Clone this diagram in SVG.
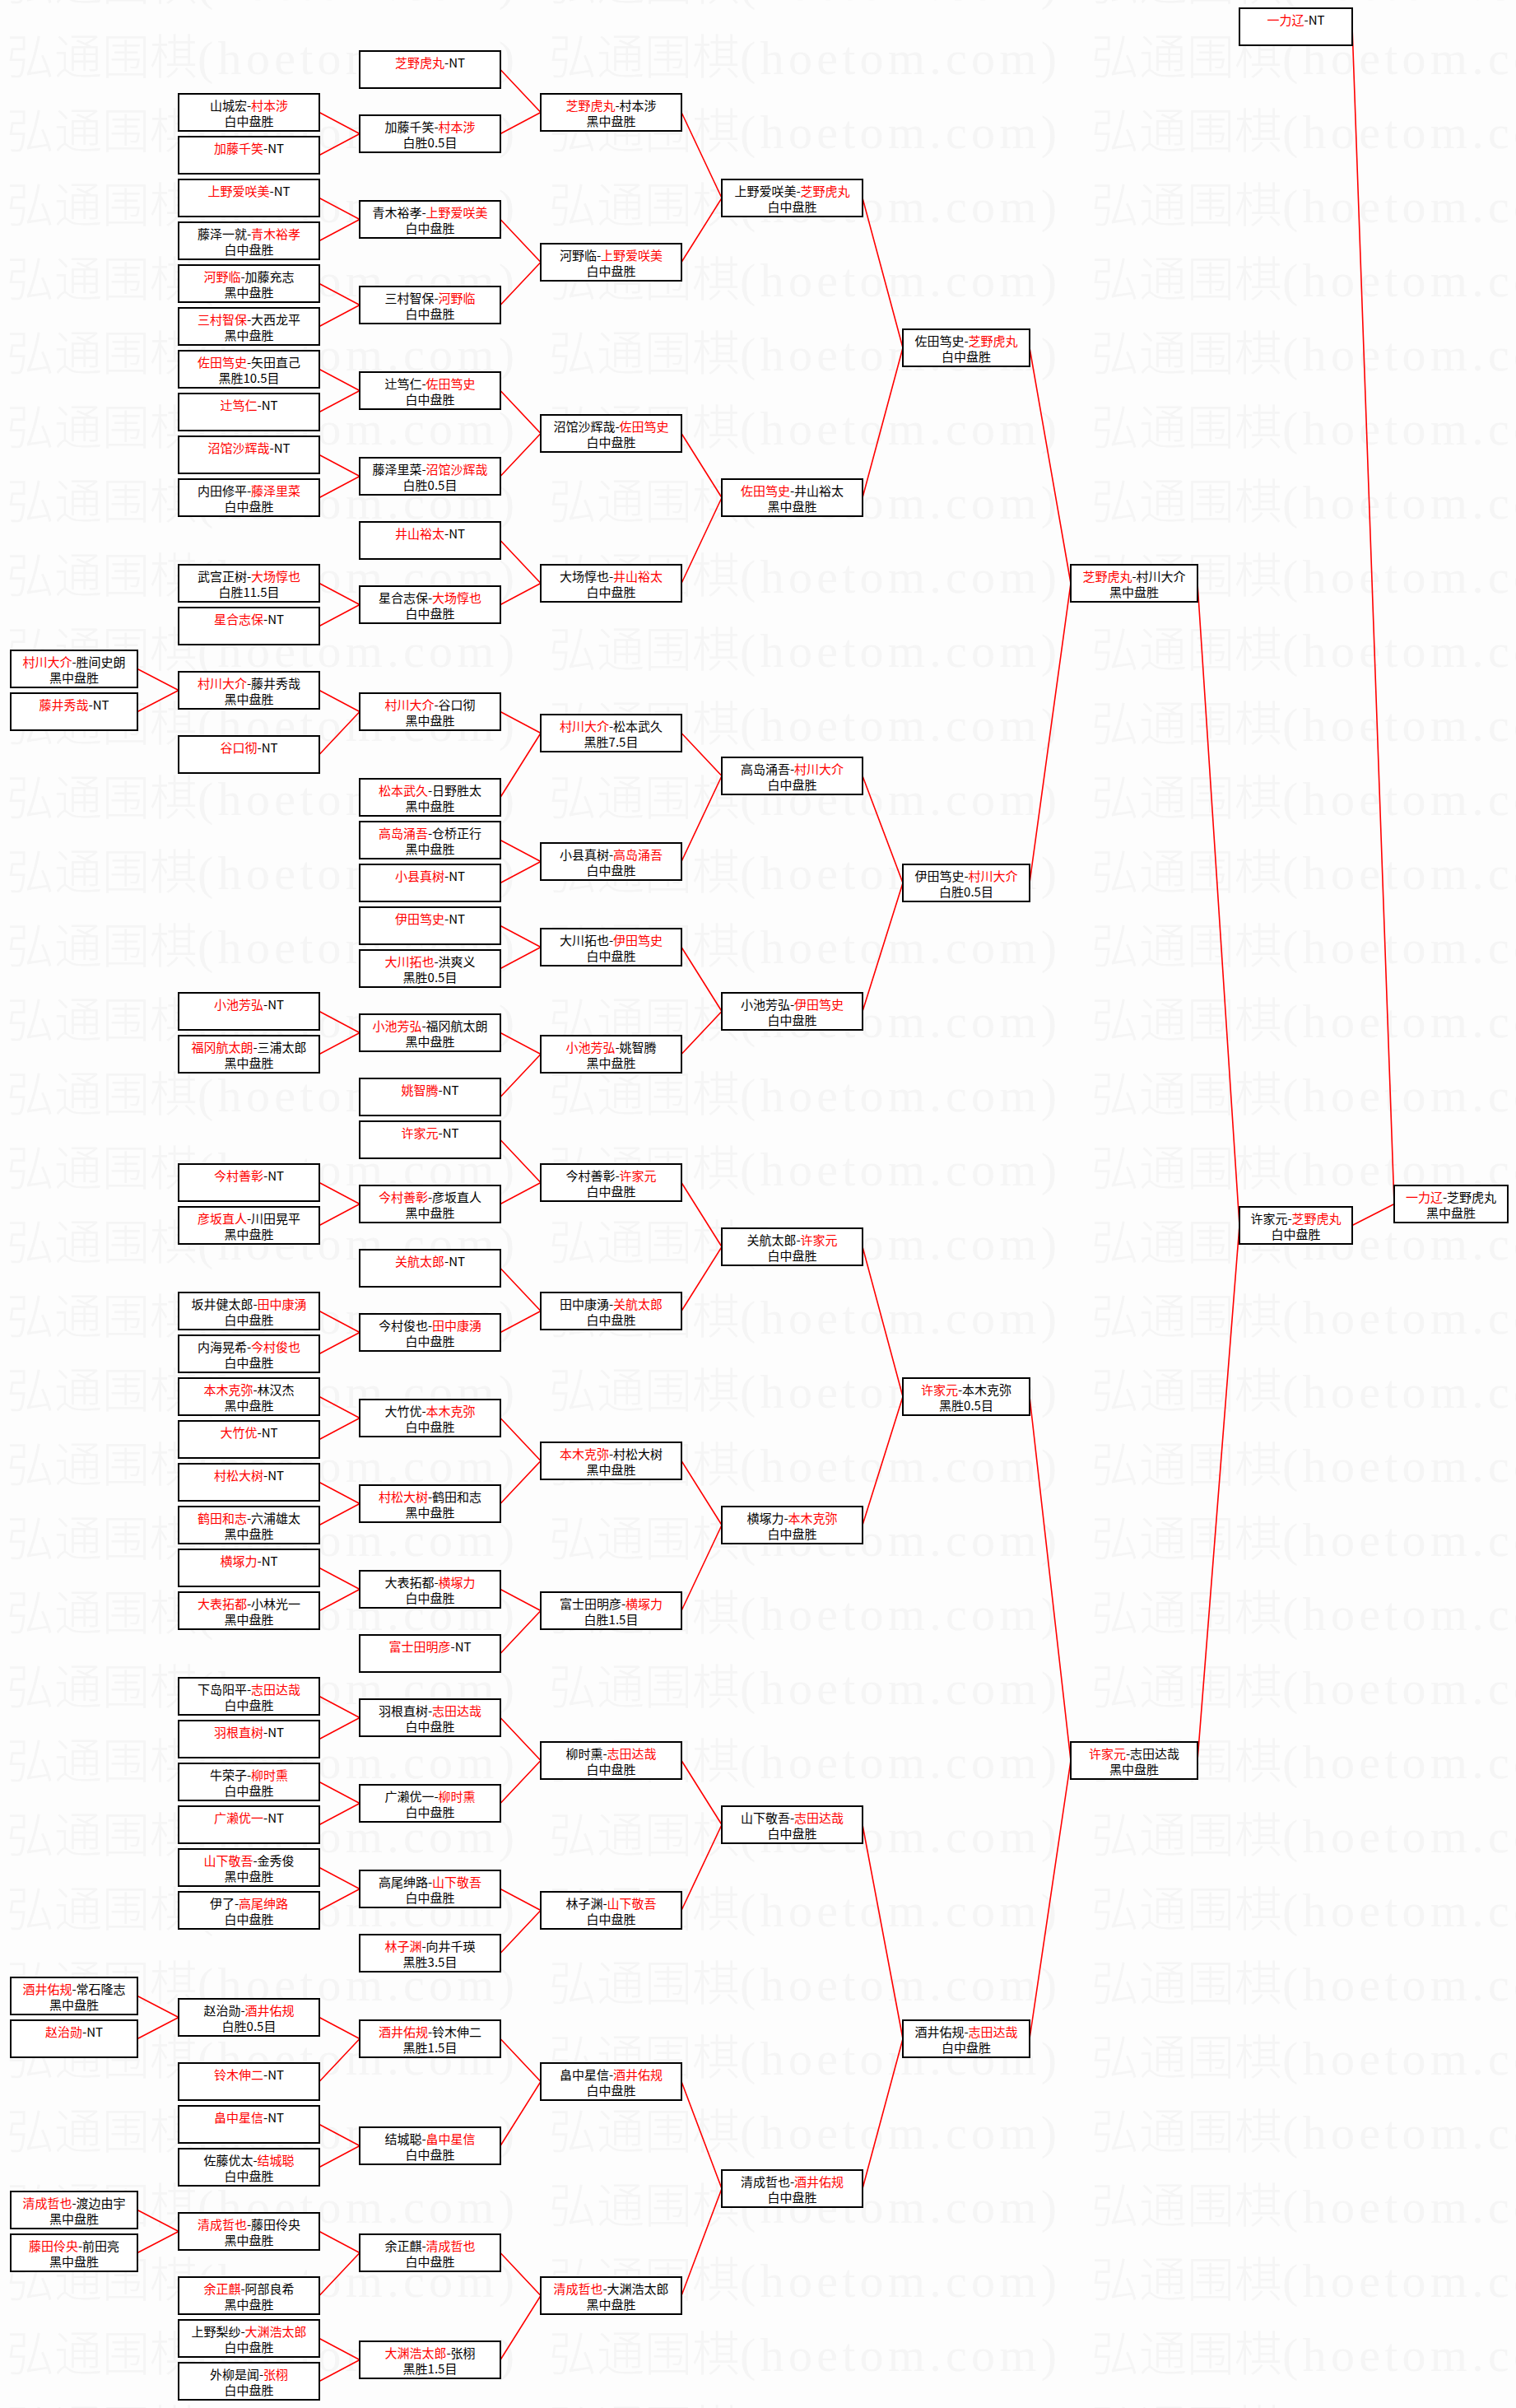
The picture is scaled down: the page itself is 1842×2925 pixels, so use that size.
<svg xmlns="http://www.w3.org/2000/svg" width="1842" height="2925" viewBox="0 0 1842 2925">
<style>
.b{fill:#fff;stroke:#000;stroke-width:2}
.t{font-family:"Noto Sans CJK SC","Noto Sans",sans-serif;font-size:15px;text-anchor:middle;fill:#000}
.w{fill:#f00}
.c path{stroke:#f00;stroke-width:1.6;fill:none}
.wm{font-family:"Noto Sans CJK SC","Liberation Serif",serif;font-size:58px;font-weight:300;fill:#f5f5f5}
.wl{font-family:"Liberation Serif",serif}
</style>
<defs>
<pattern id="wmp" patternUnits="userSpaceOnUse" x="8" y="35" width="659" height="90">
<text class="wm" x="0" y="55">弘通围棋<tspan class="wl" textLength="385" lengthAdjust="spacing">(hoetom.com)</tspan></text>
</pattern>
</defs>
<rect width="1842" height="2925" fill="#fdfdfd"/>
<rect width="1842" height="2925" fill="url(#wmp)"/>
<g id="connectors" class="c">
<path d="M167 812.5L217 838.5M167 864.5L217 838.5M167 2424.5L217 2450.5M167 2476.5L217 2450.5M167 2684.5L217 2710.5M167 2736.5L217 2710.5"/>
<path d="M388 136.5L437 162.5M388 188.5L437 162.5M388 240.5L437 266.5M388 292.5L437 266.5M388 344.5L437 370.5M388 396.5L437 370.5M388 448.5L437 474.5M388 500.5L437 474.5M388 552.5L437 578.5M388 604.5L437 578.5M388 708.5L437 734.5M388 760.5L437 734.5M388 838.5L437 864.5M388 916.5L437 864.5M388 1228.5L437 1254.5M388 1280.5L437 1254.5M388 1436.5L437 1462.5M388 1488.5L437 1462.5M388 1592.5L437 1618.5M388 1644.5L437 1618.5M388 1696.5L437 1722.5M388 1748.5L437 1722.5M388 1800.5L437 1826.5M388 1852.5L437 1826.5M388 1904.5L437 1930.5M388 1956.5L437 1930.5M388 2060.5L437 2086.5M388 2112.5L437 2086.5M388 2164.5L437 2190.5M388 2216.5L437 2190.5M388 2268.5L437 2294.5M388 2320.5L437 2294.5M388 2450.5L437 2476.5M388 2528.5L437 2476.5M388 2580.5L437 2606.5M388 2632.5L437 2606.5M388 2710.5L437 2736.5M388 2788.5L437 2736.5M388 2840.5L437 2866.5M388 2892.5L437 2866.5"/>
<path d="M608 84.5L657 136.5M608 162.5L657 136.5M608 266.5L657 318.5M608 370.5L657 318.5M608 474.5L657 526.5M608 578.5L657 526.5M608 656.5L657 708.5M608 734.5L657 708.5M608 864.5L657 890.5M608 968.5L657 890.5M608 1020.5L657 1046.5M608 1072.5L657 1046.5M608 1124.5L657 1150.5M608 1176.5L657 1150.5M608 1254.5L657 1280.5M608 1332.5L657 1280.5M608 1384.5L657 1436.5M608 1462.5L657 1436.5M608 1540.5L657 1592.5M608 1618.5L657 1592.5M608 1722.5L657 1774.5M608 1826.5L657 1774.5M608 1930.5L657 1956.5M608 2008.5L657 1956.5M608 2086.5L657 2138.5M608 2190.5L657 2138.5M608 2294.5L657 2320.5M608 2372.5L657 2320.5M608 2476.5L657 2528.5M608 2606.5L657 2528.5M608 2736.5L657 2788.5M608 2866.5L657 2788.5"/>
<path d="M828 136.5L877 240.5M828 318.5L877 240.5M828 526.5L877 604.5M828 708.5L877 604.5M828 890.5L877 942.5M828 1046.5L877 942.5M828 1150.5L877 1228.5M828 1280.5L877 1228.5M828 1436.5L877 1514.5M828 1592.5L877 1514.5M828 1774.5L877 1852.5M828 1956.5L877 1852.5M828 2138.5L877 2216.5M828 2320.5L877 2216.5M828 2528.5L877 2658.5M828 2788.5L877 2658.5"/>
<path d="M1048 240.5L1097 422.5M1048 604.5L1097 422.5M1048 942.5L1097 1072.5M1048 1228.5L1097 1072.5M1048 1514.5L1097 1696.5M1048 1852.5L1097 1696.5M1048 2216.5L1097 2476.5M1048 2658.5L1097 2476.5"/>
<path d="M1251 422.5L1301 708.5M1251 1072.5L1301 708.5M1251 1696.5L1301 2138.5M1251 2476.5L1301 2138.5"/>
<path d="M1455 708.5L1506 1488.5M1455 2138.5L1506 1488.5"/>
<path d="M1643 32.5L1694 1462.5M1643 1488.5L1694 1462.5"/>
</g>
<g id="round0">
<g id="c0r30" transform="translate(13,790)"><rect class="b" width="154" height="45"/><text class="t" x="77" y="20"><tspan class="w">村川大介</tspan>-胜间史朗</text><text class="t" x="77" y="39">黑中盘胜</text></g>
<g id="c0r32" transform="translate(13,842)"><rect class="b" width="154" height="45"/><text class="t" x="77" y="20"><tspan class="w">藤井秀哉</tspan>-NT</text></g>
<g id="c0r92" transform="translate(13,2402)"><rect class="b" width="154" height="45"/><text class="t" x="77" y="20"><tspan class="w">酒井佑规</tspan>-常石隆志</text><text class="t" x="77" y="39">黑中盘胜</text></g>
<g id="c0r94" transform="translate(13,2454)"><rect class="b" width="154" height="45"/><text class="t" x="77" y="20"><tspan class="w">赵治勋</tspan>-NT</text></g>
<g id="c0r102" transform="translate(13,2662)"><rect class="b" width="154" height="45"/><text class="t" x="77" y="20"><tspan class="w">清成哲也</tspan>-渡边由宇</text><text class="t" x="77" y="39">黑中盘胜</text></g>
<g id="c0r104" transform="translate(13,2714)"><rect class="b" width="154" height="45"/><text class="t" x="77" y="20"><tspan class="w">藤田伶央</tspan>-前田亮</text><text class="t" x="77" y="39">黑中盘胜</text></g>
</g>
<g id="round1">
<g id="c1r4" transform="translate(217,114)"><rect class="b" width="171" height="45"/><text class="t" x="85.5" y="20">山城宏-<tspan class="w">村本涉</tspan></text><text class="t" x="85.5" y="39">白中盘胜</text></g>
<g id="c1r6" transform="translate(217,166)"><rect class="b" width="171" height="45"/><text class="t" x="85.5" y="20"><tspan class="w">加藤千笑</tspan>-NT</text></g>
<g id="c1r8" transform="translate(217,218)"><rect class="b" width="171" height="45"/><text class="t" x="85.5" y="20"><tspan class="w">上野爱咲美</tspan>-NT</text></g>
<g id="c1r10" transform="translate(217,270)"><rect class="b" width="171" height="45"/><text class="t" x="85.5" y="20">藤泽一就-<tspan class="w">青木裕孝</tspan></text><text class="t" x="85.5" y="39">白中盘胜</text></g>
<g id="c1r12" transform="translate(217,322)"><rect class="b" width="171" height="45"/><text class="t" x="85.5" y="20"><tspan class="w">河野临</tspan>-加藤充志</text><text class="t" x="85.5" y="39">黑中盘胜</text></g>
<g id="c1r14" transform="translate(217,374)"><rect class="b" width="171" height="45"/><text class="t" x="85.5" y="20"><tspan class="w">三村智保</tspan>-大西龙平</text><text class="t" x="85.5" y="39">黑中盘胜</text></g>
<g id="c1r16" transform="translate(217,426)"><rect class="b" width="171" height="45"/><text class="t" x="85.5" y="20"><tspan class="w">佐田笃史</tspan>-矢田直己</text><text class="t" x="85.5" y="39">黑胜10.5目</text></g>
<g id="c1r18" transform="translate(217,478)"><rect class="b" width="171" height="45"/><text class="t" x="85.5" y="20"><tspan class="w">辻笃仁</tspan>-NT</text></g>
<g id="c1r20" transform="translate(217,530)"><rect class="b" width="171" height="45"/><text class="t" x="85.5" y="20"><tspan class="w">沼馆沙辉哉</tspan>-NT</text></g>
<g id="c1r22" transform="translate(217,582)"><rect class="b" width="171" height="45"/><text class="t" x="85.5" y="20">内田修平-<tspan class="w">藤泽里菜</tspan></text><text class="t" x="85.5" y="39">白中盘胜</text></g>
<g id="c1r26" transform="translate(217,686)"><rect class="b" width="171" height="45"/><text class="t" x="85.5" y="20">武宫正树-<tspan class="w">大场惇也</tspan></text><text class="t" x="85.5" y="39">白胜11.5目</text></g>
<g id="c1r28" transform="translate(217,738)"><rect class="b" width="171" height="45"/><text class="t" x="85.5" y="20"><tspan class="w">星合志保</tspan>-NT</text></g>
<g id="c1r31" transform="translate(217,816)"><rect class="b" width="171" height="45"/><text class="t" x="85.5" y="20"><tspan class="w">村川大介</tspan>-藤井秀哉</text><text class="t" x="85.5" y="39">黑中盘胜</text></g>
<g id="c1r34" transform="translate(217,894)"><rect class="b" width="171" height="45"/><text class="t" x="85.5" y="20"><tspan class="w">谷口彻</tspan>-NT</text></g>
<g id="c1r46" transform="translate(217,1206)"><rect class="b" width="171" height="45"/><text class="t" x="85.5" y="20"><tspan class="w">小池芳弘</tspan>-NT</text></g>
<g id="c1r48" transform="translate(217,1258)"><rect class="b" width="171" height="45"/><text class="t" x="85.5" y="20"><tspan class="w">福冈航太朗</tspan>-三浦太郎</text><text class="t" x="85.5" y="39">黑中盘胜</text></g>
<g id="c1r54" transform="translate(217,1414)"><rect class="b" width="171" height="45"/><text class="t" x="85.5" y="20"><tspan class="w">今村善彰</tspan>-NT</text></g>
<g id="c1r56" transform="translate(217,1466)"><rect class="b" width="171" height="45"/><text class="t" x="85.5" y="20"><tspan class="w">彦坂直人</tspan>-川田晃平</text><text class="t" x="85.5" y="39">黑中盘胜</text></g>
<g id="c1r60" transform="translate(217,1570)"><rect class="b" width="171" height="45"/><text class="t" x="85.5" y="20">坂井健太郎-<tspan class="w">田中康湧</tspan></text><text class="t" x="85.5" y="39">白中盘胜</text></g>
<g id="c1r62" transform="translate(217,1622)"><rect class="b" width="171" height="45"/><text class="t" x="85.5" y="20">内海晃希-<tspan class="w">今村俊也</tspan></text><text class="t" x="85.5" y="39">白中盘胜</text></g>
<g id="c1r64" transform="translate(217,1674)"><rect class="b" width="171" height="45"/><text class="t" x="85.5" y="20"><tspan class="w">本木克弥</tspan>-林汉杰</text><text class="t" x="85.5" y="39">黑中盘胜</text></g>
<g id="c1r66" transform="translate(217,1726)"><rect class="b" width="171" height="45"/><text class="t" x="85.5" y="20"><tspan class="w">大竹优</tspan>-NT</text></g>
<g id="c1r68" transform="translate(217,1778)"><rect class="b" width="171" height="45"/><text class="t" x="85.5" y="20"><tspan class="w">村松大树</tspan>-NT</text></g>
<g id="c1r70" transform="translate(217,1830)"><rect class="b" width="171" height="45"/><text class="t" x="85.5" y="20"><tspan class="w">鹤田和志</tspan>-六浦雄太</text><text class="t" x="85.5" y="39">黑中盘胜</text></g>
<g id="c1r72" transform="translate(217,1882)"><rect class="b" width="171" height="45"/><text class="t" x="85.5" y="20"><tspan class="w">横塚力</tspan>-NT</text></g>
<g id="c1r74" transform="translate(217,1934)"><rect class="b" width="171" height="45"/><text class="t" x="85.5" y="20"><tspan class="w">大表拓都</tspan>-小林光一</text><text class="t" x="85.5" y="39">黑中盘胜</text></g>
<g id="c1r78" transform="translate(217,2038)"><rect class="b" width="171" height="45"/><text class="t" x="85.5" y="20">下岛阳平-<tspan class="w">志田达哉</tspan></text><text class="t" x="85.5" y="39">白中盘胜</text></g>
<g id="c1r80" transform="translate(217,2090)"><rect class="b" width="171" height="45"/><text class="t" x="85.5" y="20"><tspan class="w">羽根直树</tspan>-NT</text></g>
<g id="c1r82" transform="translate(217,2142)"><rect class="b" width="171" height="45"/><text class="t" x="85.5" y="20">牛荣子-<tspan class="w">柳时熏</tspan></text><text class="t" x="85.5" y="39">白中盘胜</text></g>
<g id="c1r84" transform="translate(217,2194)"><rect class="b" width="171" height="45"/><text class="t" x="85.5" y="20"><tspan class="w">广濑优一</tspan>-NT</text></g>
<g id="c1r86" transform="translate(217,2246)"><rect class="b" width="171" height="45"/><text class="t" x="85.5" y="20"><tspan class="w">山下敬吾</tspan>-金秀俊</text><text class="t" x="85.5" y="39">黑中盘胜</text></g>
<g id="c1r88" transform="translate(217,2298)"><rect class="b" width="171" height="45"/><text class="t" x="85.5" y="20">伊了-<tspan class="w">高尾绅路</tspan></text><text class="t" x="85.5" y="39">白中盘胜</text></g>
<g id="c1r93" transform="translate(217,2428)"><rect class="b" width="171" height="45"/><text class="t" x="85.5" y="20">赵治勋-<tspan class="w">酒井佑规</tspan></text><text class="t" x="85.5" y="39">白胜0.5目</text></g>
<g id="c1r96" transform="translate(217,2506)"><rect class="b" width="171" height="45"/><text class="t" x="85.5" y="20"><tspan class="w">铃木伸二</tspan>-NT</text></g>
<g id="c1r98" transform="translate(217,2558)"><rect class="b" width="171" height="45"/><text class="t" x="85.5" y="20"><tspan class="w">畠中星信</tspan>-NT</text></g>
<g id="c1r100" transform="translate(217,2610)"><rect class="b" width="171" height="45"/><text class="t" x="85.5" y="20">佐藤优太-<tspan class="w">结城聪</tspan></text><text class="t" x="85.5" y="39">白中盘胜</text></g>
<g id="c1r103" transform="translate(217,2688)"><rect class="b" width="171" height="45"/><text class="t" x="85.5" y="20"><tspan class="w">清成哲也</tspan>-藤田伶央</text><text class="t" x="85.5" y="39">黑中盘胜</text></g>
<g id="c1r106" transform="translate(217,2766)"><rect class="b" width="171" height="45"/><text class="t" x="85.5" y="20"><tspan class="w">余正麒</tspan>-阿部良希</text><text class="t" x="85.5" y="39">黑中盘胜</text></g>
<g id="c1r108" transform="translate(217,2818)"><rect class="b" width="171" height="45"/><text class="t" x="85.5" y="20">上野梨纱-<tspan class="w">大渊浩太郎</tspan></text><text class="t" x="85.5" y="39">白中盘胜</text></g>
<g id="c1r110" transform="translate(217,2870)"><rect class="b" width="171" height="45"/><text class="t" x="85.5" y="20">外柳是闻-<tspan class="w">张栩</tspan></text><text class="t" x="85.5" y="39">白中盘胜</text></g>
</g>
<g id="round2">
<g id="c2r2" transform="translate(437,62)"><rect class="b" width="171" height="45"/><text class="t" x="85.5" y="20"><tspan class="w">芝野虎丸</tspan>-NT</text></g>
<g id="c2r5" transform="translate(437,140)"><rect class="b" width="171" height="45"/><text class="t" x="85.5" y="20">加藤千笑-<tspan class="w">村本涉</tspan></text><text class="t" x="85.5" y="39">白胜0.5目</text></g>
<g id="c2r9" transform="translate(437,244)"><rect class="b" width="171" height="45"/><text class="t" x="85.5" y="20">青木裕孝-<tspan class="w">上野爱咲美</tspan></text><text class="t" x="85.5" y="39">白中盘胜</text></g>
<g id="c2r13" transform="translate(437,348)"><rect class="b" width="171" height="45"/><text class="t" x="85.5" y="20">三村智保-<tspan class="w">河野临</tspan></text><text class="t" x="85.5" y="39">白中盘胜</text></g>
<g id="c2r17" transform="translate(437,452)"><rect class="b" width="171" height="45"/><text class="t" x="85.5" y="20">辻笃仁-<tspan class="w">佐田笃史</tspan></text><text class="t" x="85.5" y="39">白中盘胜</text></g>
<g id="c2r21" transform="translate(437,556)"><rect class="b" width="171" height="45"/><text class="t" x="85.5" y="20">藤泽里菜-<tspan class="w">沼馆沙辉哉</tspan></text><text class="t" x="85.5" y="39">白胜0.5目</text></g>
<g id="c2r24" transform="translate(437,634)"><rect class="b" width="171" height="45"/><text class="t" x="85.5" y="20"><tspan class="w">井山裕太</tspan>-NT</text></g>
<g id="c2r27" transform="translate(437,712)"><rect class="b" width="171" height="45"/><text class="t" x="85.5" y="20">星合志保-<tspan class="w">大场惇也</tspan></text><text class="t" x="85.5" y="39">白中盘胜</text></g>
<g id="c2r32" transform="translate(437,842)"><rect class="b" width="171" height="45"/><text class="t" x="85.5" y="20"><tspan class="w">村川大介</tspan>-谷口彻</text><text class="t" x="85.5" y="39">黑中盘胜</text></g>
<g id="c2r36" transform="translate(437,946)"><rect class="b" width="171" height="45"/><text class="t" x="85.5" y="20"><tspan class="w">松本武久</tspan>-日野胜太</text><text class="t" x="85.5" y="39">黑中盘胜</text></g>
<g id="c2r38" transform="translate(437,998)"><rect class="b" width="171" height="45"/><text class="t" x="85.5" y="20"><tspan class="w">高岛涌吾</tspan>-仓桥正行</text><text class="t" x="85.5" y="39">黑中盘胜</text></g>
<g id="c2r40" transform="translate(437,1050)"><rect class="b" width="171" height="45"/><text class="t" x="85.5" y="20"><tspan class="w">小县真树</tspan>-NT</text></g>
<g id="c2r42" transform="translate(437,1102)"><rect class="b" width="171" height="45"/><text class="t" x="85.5" y="20"><tspan class="w">伊田笃史</tspan>-NT</text></g>
<g id="c2r44" transform="translate(437,1154)"><rect class="b" width="171" height="45"/><text class="t" x="85.5" y="20"><tspan class="w">大川拓也</tspan>-洪爽义</text><text class="t" x="85.5" y="39">黑胜0.5目</text></g>
<g id="c2r47" transform="translate(437,1232)"><rect class="b" width="171" height="45"/><text class="t" x="85.5" y="20"><tspan class="w">小池芳弘</tspan>-福冈航太朗</text><text class="t" x="85.5" y="39">黑中盘胜</text></g>
<g id="c2r50" transform="translate(437,1310)"><rect class="b" width="171" height="45"/><text class="t" x="85.5" y="20"><tspan class="w">姚智腾</tspan>-NT</text></g>
<g id="c2r52" transform="translate(437,1362)"><rect class="b" width="171" height="45"/><text class="t" x="85.5" y="20"><tspan class="w">许家元</tspan>-NT</text></g>
<g id="c2r55" transform="translate(437,1440)"><rect class="b" width="171" height="45"/><text class="t" x="85.5" y="20"><tspan class="w">今村善彰</tspan>-彦坂直人</text><text class="t" x="85.5" y="39">黑中盘胜</text></g>
<g id="c2r58" transform="translate(437,1518)"><rect class="b" width="171" height="45"/><text class="t" x="85.5" y="20"><tspan class="w">关航太郎</tspan>-NT</text></g>
<g id="c2r61" transform="translate(437,1596)"><rect class="b" width="171" height="45"/><text class="t" x="85.5" y="20">今村俊也-<tspan class="w">田中康湧</tspan></text><text class="t" x="85.5" y="39">白中盘胜</text></g>
<g id="c2r65" transform="translate(437,1700)"><rect class="b" width="171" height="45"/><text class="t" x="85.5" y="20">大竹优-<tspan class="w">本木克弥</tspan></text><text class="t" x="85.5" y="39">白中盘胜</text></g>
<g id="c2r69" transform="translate(437,1804)"><rect class="b" width="171" height="45"/><text class="t" x="85.5" y="20"><tspan class="w">村松大树</tspan>-鹤田和志</text><text class="t" x="85.5" y="39">黑中盘胜</text></g>
<g id="c2r73" transform="translate(437,1908)"><rect class="b" width="171" height="45"/><text class="t" x="85.5" y="20">大表拓都-<tspan class="w">横塚力</tspan></text><text class="t" x="85.5" y="39">白中盘胜</text></g>
<g id="c2r76" transform="translate(437,1986)"><rect class="b" width="171" height="45"/><text class="t" x="85.5" y="20"><tspan class="w">富士田明彦</tspan>-NT</text></g>
<g id="c2r79" transform="translate(437,2064)"><rect class="b" width="171" height="45"/><text class="t" x="85.5" y="20">羽根直树-<tspan class="w">志田达哉</tspan></text><text class="t" x="85.5" y="39">白中盘胜</text></g>
<g id="c2r83" transform="translate(437,2168)"><rect class="b" width="171" height="45"/><text class="t" x="85.5" y="20">广濑优一-<tspan class="w">柳时熏</tspan></text><text class="t" x="85.5" y="39">白中盘胜</text></g>
<g id="c2r87" transform="translate(437,2272)"><rect class="b" width="171" height="45"/><text class="t" x="85.5" y="20">高尾绅路-<tspan class="w">山下敬吾</tspan></text><text class="t" x="85.5" y="39">白中盘胜</text></g>
<g id="c2r90" transform="translate(437,2350)"><rect class="b" width="171" height="45"/><text class="t" x="85.5" y="20"><tspan class="w">林子渊</tspan>-向井千瑛</text><text class="t" x="85.5" y="39">黑胜3.5目</text></g>
<g id="c2r94" transform="translate(437,2454)"><rect class="b" width="171" height="45"/><text class="t" x="85.5" y="20"><tspan class="w">酒井佑规</tspan>-铃木伸二</text><text class="t" x="85.5" y="39">黑胜1.5目</text></g>
<g id="c2r99" transform="translate(437,2584)"><rect class="b" width="171" height="45"/><text class="t" x="85.5" y="20">结城聪-<tspan class="w">畠中星信</tspan></text><text class="t" x="85.5" y="39">白中盘胜</text></g>
<g id="c2r104" transform="translate(437,2714)"><rect class="b" width="171" height="45"/><text class="t" x="85.5" y="20">余正麒-<tspan class="w">清成哲也</tspan></text><text class="t" x="85.5" y="39">白中盘胜</text></g>
<g id="c2r109" transform="translate(437,2844)"><rect class="b" width="171" height="45"/><text class="t" x="85.5" y="20"><tspan class="w">大渊浩太郎</tspan>-张栩</text><text class="t" x="85.5" y="39">黑胜1.5目</text></g>
</g>
<g id="round3">
<g id="c3r4" transform="translate(657,114)"><rect class="b" width="171" height="45"/><text class="t" x="85.5" y="20"><tspan class="w">芝野虎丸</tspan>-村本涉</text><text class="t" x="85.5" y="39">黑中盘胜</text></g>
<g id="c3r11" transform="translate(657,296)"><rect class="b" width="171" height="45"/><text class="t" x="85.5" y="20">河野临-<tspan class="w">上野爱咲美</tspan></text><text class="t" x="85.5" y="39">白中盘胜</text></g>
<g id="c3r19" transform="translate(657,504)"><rect class="b" width="171" height="45"/><text class="t" x="85.5" y="20">沼馆沙辉哉-<tspan class="w">佐田笃史</tspan></text><text class="t" x="85.5" y="39">白中盘胜</text></g>
<g id="c3r26" transform="translate(657,686)"><rect class="b" width="171" height="45"/><text class="t" x="85.5" y="20">大场惇也-<tspan class="w">井山裕太</tspan></text><text class="t" x="85.5" y="39">白中盘胜</text></g>
<g id="c3r33" transform="translate(657,868)"><rect class="b" width="171" height="45"/><text class="t" x="85.5" y="20"><tspan class="w">村川大介</tspan>-松本武久</text><text class="t" x="85.5" y="39">黑胜7.5目</text></g>
<g id="c3r39" transform="translate(657,1024)"><rect class="b" width="171" height="45"/><text class="t" x="85.5" y="20">小县真树-<tspan class="w">高岛涌吾</tspan></text><text class="t" x="85.5" y="39">白中盘胜</text></g>
<g id="c3r43" transform="translate(657,1128)"><rect class="b" width="171" height="45"/><text class="t" x="85.5" y="20">大川拓也-<tspan class="w">伊田笃史</tspan></text><text class="t" x="85.5" y="39">白中盘胜</text></g>
<g id="c3r48" transform="translate(657,1258)"><rect class="b" width="171" height="45"/><text class="t" x="85.5" y="20"><tspan class="w">小池芳弘</tspan>-姚智腾</text><text class="t" x="85.5" y="39">黑中盘胜</text></g>
<g id="c3r54" transform="translate(657,1414)"><rect class="b" width="171" height="45"/><text class="t" x="85.5" y="20">今村善彰-<tspan class="w">许家元</tspan></text><text class="t" x="85.5" y="39">白中盘胜</text></g>
<g id="c3r60" transform="translate(657,1570)"><rect class="b" width="171" height="45"/><text class="t" x="85.5" y="20">田中康湧-<tspan class="w">关航太郎</tspan></text><text class="t" x="85.5" y="39">白中盘胜</text></g>
<g id="c3r67" transform="translate(657,1752)"><rect class="b" width="171" height="45"/><text class="t" x="85.5" y="20"><tspan class="w">本木克弥</tspan>-村松大树</text><text class="t" x="85.5" y="39">黑中盘胜</text></g>
<g id="c3r74" transform="translate(657,1934)"><rect class="b" width="171" height="45"/><text class="t" x="85.5" y="20">富士田明彦-<tspan class="w">横塚力</tspan></text><text class="t" x="85.5" y="39">白胜1.5目</text></g>
<g id="c3r81" transform="translate(657,2116)"><rect class="b" width="171" height="45"/><text class="t" x="85.5" y="20">柳时熏-<tspan class="w">志田达哉</tspan></text><text class="t" x="85.5" y="39">白中盘胜</text></g>
<g id="c3r88" transform="translate(657,2298)"><rect class="b" width="171" height="45"/><text class="t" x="85.5" y="20">林子渊-<tspan class="w">山下敬吾</tspan></text><text class="t" x="85.5" y="39">白中盘胜</text></g>
<g id="c3r96" transform="translate(657,2506)"><rect class="b" width="171" height="45"/><text class="t" x="85.5" y="20">畠中星信-<tspan class="w">酒井佑规</tspan></text><text class="t" x="85.5" y="39">白中盘胜</text></g>
<g id="c3r106" transform="translate(657,2766)"><rect class="b" width="171" height="45"/><text class="t" x="85.5" y="20"><tspan class="w">清成哲也</tspan>-大渊浩太郎</text><text class="t" x="85.5" y="39">黑中盘胜</text></g>
</g>
<g id="round4">
<g id="c4r8" transform="translate(877,218)"><rect class="b" width="171" height="45"/><text class="t" x="85.5" y="20">上野爱咲美-<tspan class="w">芝野虎丸</tspan></text><text class="t" x="85.5" y="39">白中盘胜</text></g>
<g id="c4r22" transform="translate(877,582)"><rect class="b" width="171" height="45"/><text class="t" x="85.5" y="20"><tspan class="w">佐田笃史</tspan>-井山裕太</text><text class="t" x="85.5" y="39">黑中盘胜</text></g>
<g id="c4r35" transform="translate(877,920)"><rect class="b" width="171" height="45"/><text class="t" x="85.5" y="20">高岛涌吾-<tspan class="w">村川大介</tspan></text><text class="t" x="85.5" y="39">白中盘胜</text></g>
<g id="c4r46" transform="translate(877,1206)"><rect class="b" width="171" height="45"/><text class="t" x="85.5" y="20">小池芳弘-<tspan class="w">伊田笃史</tspan></text><text class="t" x="85.5" y="39">白中盘胜</text></g>
<g id="c4r57" transform="translate(877,1492)"><rect class="b" width="171" height="45"/><text class="t" x="85.5" y="20">关航太郎-<tspan class="w">许家元</tspan></text><text class="t" x="85.5" y="39">白中盘胜</text></g>
<g id="c4r70" transform="translate(877,1830)"><rect class="b" width="171" height="45"/><text class="t" x="85.5" y="20">横塚力-<tspan class="w">本木克弥</tspan></text><text class="t" x="85.5" y="39">白中盘胜</text></g>
<g id="c4r84" transform="translate(877,2194)"><rect class="b" width="171" height="45"/><text class="t" x="85.5" y="20">山下敬吾-<tspan class="w">志田达哉</tspan></text><text class="t" x="85.5" y="39">白中盘胜</text></g>
<g id="c4r101" transform="translate(877,2636)"><rect class="b" width="171" height="45"/><text class="t" x="85.5" y="20">清成哲也-<tspan class="w">酒井佑规</tspan></text><text class="t" x="85.5" y="39">白中盘胜</text></g>
</g>
<g id="round5">
<g id="c5r15" transform="translate(1097,400)"><rect class="b" width="154" height="45"/><text class="t" x="77" y="20">佐田笃史-<tspan class="w">芝野虎丸</tspan></text><text class="t" x="77" y="39">白中盘胜</text></g>
<g id="c5r40" transform="translate(1097,1050)"><rect class="b" width="154" height="45"/><text class="t" x="77" y="20">伊田笃史-<tspan class="w">村川大介</tspan></text><text class="t" x="77" y="39">白胜0.5目</text></g>
<g id="c5r64" transform="translate(1097,1674)"><rect class="b" width="154" height="45"/><text class="t" x="77" y="20"><tspan class="w">许家元</tspan>-本木克弥</text><text class="t" x="77" y="39">黑胜0.5目</text></g>
<g id="c5r94" transform="translate(1097,2454)"><rect class="b" width="154" height="45"/><text class="t" x="77" y="20">酒井佑规-<tspan class="w">志田达哉</tspan></text><text class="t" x="77" y="39">白中盘胜</text></g>
</g>
<g id="round6">
<g id="c6r26" transform="translate(1301,686)"><rect class="b" width="154" height="45"/><text class="t" x="77" y="20"><tspan class="w">芝野虎丸</tspan>-村川大介</text><text class="t" x="77" y="39">黑中盘胜</text></g>
<g id="c6r81" transform="translate(1301,2116)"><rect class="b" width="154" height="45"/><text class="t" x="77" y="20"><tspan class="w">许家元</tspan>-志田达哉</text><text class="t" x="77" y="39">黑中盘胜</text></g>
</g>
<g id="round7">
<g id="c7r0" transform="translate(1506,10)"><rect class="b" width="137" height="45"/><text class="t" x="68.5" y="20"><tspan class="w">一力辽</tspan>-NT</text></g>
<g id="c7r56" transform="translate(1506,1466)"><rect class="b" width="137" height="45"/><text class="t" x="68.5" y="20">许家元-<tspan class="w">芝野虎丸</tspan></text><text class="t" x="68.5" y="39">白中盘胜</text></g>
</g>
<g id="final">
<g id="c8r55" transform="translate(1694,1440)"><rect class="b" width="138" height="45"/><text class="t" x="69" y="20"><tspan class="w">一力辽</tspan>-芝野虎丸</text><text class="t" x="69" y="39">黑中盘胜</text></g>
</g>
</svg>
